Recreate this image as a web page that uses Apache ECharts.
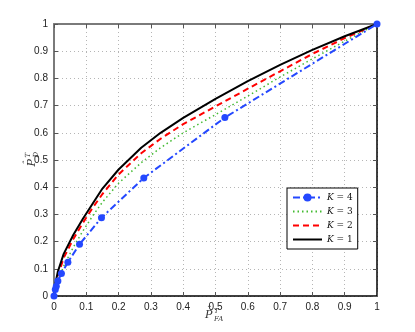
<!DOCTYPE html>
<html>
<head>
<meta charset="utf-8">
<script src="https://cdn.jsdelivr.net/npm/echarts@6/dist/echarts.min.js"></script>
<style>
  html, body { margin: 0; padding: 0; background: #fff; }
  #chart { width: 415px; height: 332px; }
</style>
</head>
<body>
<div id="chart"></div>
<script>
// ROC curves, values
const xK4 = [0, 0.004, 0.007, 0.012, 0.023, 0.043, 0.079, 0.147, 0.278, 0.529, 1];
const yK4 = [0, 0.024, 0.036, 0.055, 0.083, 0.124, 0.19, 0.288, 0.434, 0.656, 1];

const xGrid = [0, 0.005, 0.012, 0.03, 0.06, 0.09, 0.12, 0.15, 0.2, 0.27, 0.33, 0.4, 0.5, 0.6, 0.7, 0.8, 0.9, 1];
const yK3 = [0, 0.03, 0.055, 0.11, 0.18, 0.24, 0.295, 0.345, 0.415, 0.49, 0.545, 0.6, 0.667, 0.735, 0.805, 0.872, 0.937, 1];
const yK2 = [0, 0.04, 0.075, 0.14, 0.21, 0.27, 0.325, 0.375, 0.447, 0.525, 0.578, 0.632, 0.697, 0.762, 0.826, 0.89, 0.948, 1];
const yK1 = [0, 0.05, 0.09, 0.155, 0.225, 0.285, 0.34, 0.395, 0.465, 0.545, 0.6, 0.655, 0.725, 0.79, 0.85, 0.905, 0.955, 1];

const seriesNames = ["K = 4", "K = 3", "K = 2", "K = 1"];

const pairs = (xs, ys) => xs.map((x, i) => [x, ys[i]]);

const chart = echarts.init(document.getElementById("chart"), null, { renderer: "canvas" });

const labelFont = { color: "#222", fontSize: 10, fontFamily: "Liberation Sans" };
const gridLine = { show: true, lineStyle: { color: "#b5b5b5", width: 1, type: [1, 3] } };

const baseAxis = {
  type: "value",
  min: 0,
  max: 1,
  interval: 0.1,
  splitLine: { show: false },
  axisTick: { show: true, inside: true, length: 4, lineStyle: { color: "#555" } }
};

// small math-style label: hat over P, superscript T and a subscript
const mathLabel = sub => [
  { type: "text", x: 1, y: -3, style: { text: "\u02c6", font: "italic 10px DejaVu Serif", fill: "#333" } },
  { type: "text", x: 0, y: 2, style: { text: "P", font: "italic 11px DejaVu Serif", fill: "#333" } },
  { type: "text", x: 9, y: 0, style: { text: "T", font: "italic 7px DejaVu Serif", fill: "#333" } },
  { type: "text", x: 9, y: 8, style: { text: sub, font: "italic 7px DejaVu Serif", fill: "#333" } }
];

const option = {
  animation: false,
  backgroundColor: "#fff",
  grid: { left: 54, right: 38, top: 24, bottom: 36 },
  xAxis: [
    Object.assign({}, baseAxis, {
      position: "bottom",
      axisLine: { show: true, onZero: false, lineStyle: { color: "#000", width: 1.5 } },
      axisLabel: Object.assign({ margin: 6, formatter: v => String(+v.toFixed(1)) }, labelFont),
      splitLine: gridLine
    }),
    Object.assign({}, baseAxis, {
      position: "top",
      axisLine: { show: true, onZero: false, lineStyle: { color: "#7a7a7a", width: 2 } },
      axisLabel: { show: false }
    })
  ],
  yAxis: [
    Object.assign({}, baseAxis, {
      position: "left",
      axisLine: { show: true, onZero: false, lineStyle: { color: "#7a7a7a", width: 2 } },
      axisLabel: Object.assign({ margin: 6, formatter: v => String(+v.toFixed(1)) }, labelFont),
      splitLine: gridLine
    }),
    Object.assign({}, baseAxis, {
      position: "right",
      axisLine: { show: true, onZero: false, lineStyle: { color: "#000", width: 1.5 } },
      axisLabel: { show: false }
    })
  ],
  legend: {
    data: [
      { name: seriesNames[0] },
      { name: seriesNames[1], itemStyle: { opacity: 0 } },
      { name: seriesNames[2], itemStyle: { opacity: 0 } },
      { name: seriesNames[3], itemStyle: { opacity: 0 } }
    ],
    orient: "vertical",
    left: 287,
    top: 188,
    padding: [5, 5, 5, 5],
    itemGap: 5,
    itemWidth: 29,
    itemHeight: 10,
    backgroundColor: "#fff",
    borderColor: "#000",
    borderWidth: 1,
    borderRadius: 0,
    formatter: name => "{k|K} = " + name.slice(-1),
    textStyle: {
      color: "#111",
      fontSize: 9,
      fontFamily: "DejaVu Serif",
      rich: { k: { fontStyle: "italic", fontSize: 9, fontFamily: "DejaVu Serif" } }
    }
  },
  series: [
    {
      name: seriesNames[0],
      type: "line",
      data: pairs(xK4, yK4),
      symbol: "circle",
      symbolSize: 7,
      itemStyle: { color: "#2448ff" },
      lineStyle: { color: "#2448ff", width: 2, type: [7, 3, 2, 3] },
      z: 4
    },
    {
      name: seriesNames[1],
      type: "line",
      data: pairs(xGrid, yK3),
      showSymbol: false,
      symbol: "none",
      itemStyle: { color: "#44bb33" },
      lineStyle: { color: "#44bb33", width: 1.5, type: [1.5, 3] },
      z: 3
    },
    {
      name: seriesNames[2],
      type: "line",
      data: pairs(xGrid, yK2),
      showSymbol: false,
      symbol: "none",
      itemStyle: { color: "#ff0000" },
      lineStyle: { color: "#ff0000", width: 2, type: [6, 4] },
      z: 3
    },
    {
      name: seriesNames[3],
      type: "line",
      data: pairs(xGrid, yK1),
      showSymbol: false,
      symbol: "none",
      itemStyle: { color: "#000" },
      lineStyle: { color: "#000", width: 2 },
      z: 3
    }
  ],
  graphic: [
    { type: "group", left: 205, top: 305, children: mathLabel("FA") },
    { type: "group", left: 22, top: 152, rotation: Math.PI / 2, children: mathLabel("D") }
  ]
};

chart.setOption(option);
</script>
</body>
</html>
